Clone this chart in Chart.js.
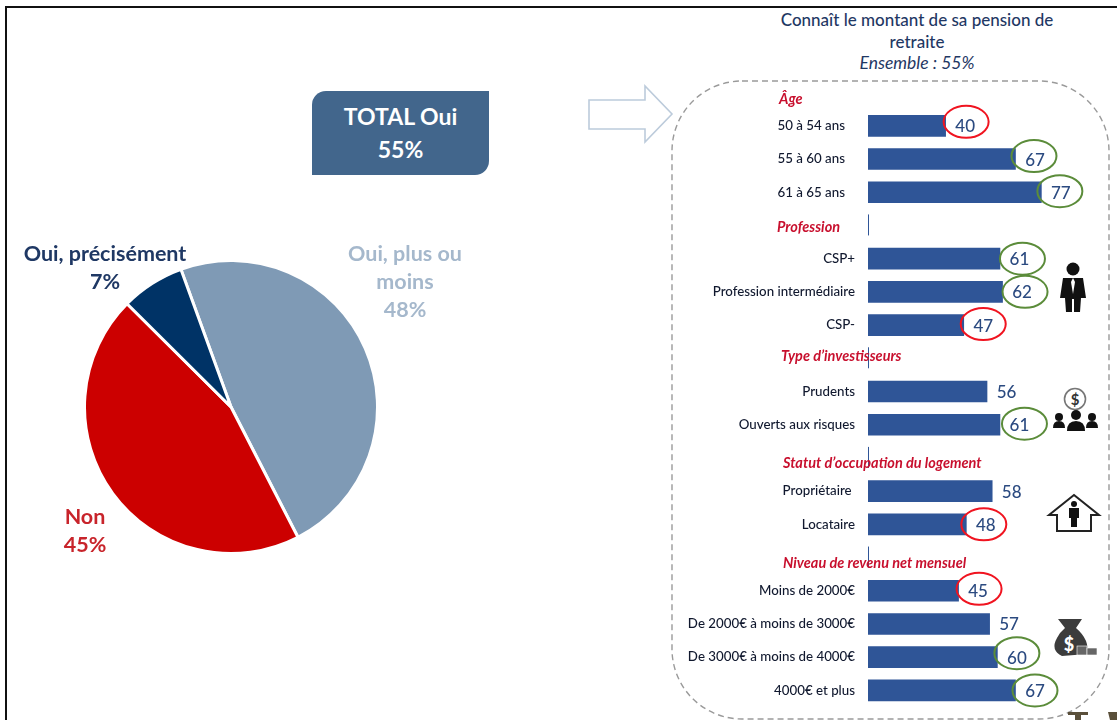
<!DOCTYPE html>
<html lang="fr">
<head>
<meta charset="utf-8">
<title>Pension de retraite</title>
<script src="https://cdn.jsdelivr.net/npm/chart.js@4"></script>
<style>
    html, body { margin: 0; padding: 0; background: #fff; }
    body { position: relative; width: 1117px; height: 720px; overflow: hidden; font-family: Lato, sans-serif; filter: blur(0.35px); }
    canvas, svg, .txt { position: absolute; }
    svg { left: 0; top: 0; }
    .txt { text-align: center; transform: translateX(-50%); white-space: nowrap; }
    #frameTop { position: absolute; left: 5px; top: 6px; width: 1112px; height: 2px; background: #111; }
    #frameLeft { position: absolute; left: 5px; top: 6px; width: 2px; height: 714px; background: #111; }
    #total {
        position: absolute; left: 312px; top: 91px; width: 177px; height: 84px;
        background: #42668c; color: #fff; font-weight: 700; font-size: 23px; line-height: 33px;
        text-align: center; border-radius: 14px 0 14px 0; padding-top: 9px; box-sizing: border-box;
    }
    #title { left: 917px; top: 9px; color: #1f3864; font-size: 17px; line-height: 21.5px; font-weight: 500; }
    #title i { font-weight: 400; font-size: 17.5px; }
    .pieLabel { font-weight: 700; font-size: 21.5px; line-height: 28px; }
</style>
</head>
<body>
<div id="frameTop"></div>
<div id="frameLeft"></div>
<div id="total">TOTAL Oui<br>55%</div>
<div id="title" class="txt">Connaît le montant de sa pension de<br>retraite<br><i>Ensemble : 55%</i></div>

<svg width="1117" height="720">
    <polygon points="589,100 645,100 645,86 672,114 645,142 645,129 589,129" fill="#fff" stroke="#bccbdb" stroke-width="1.6"/>
    <rect x="672" y="81" width="437" height="638" rx="70" ry="70" fill="none" stroke="#9a9a9a" stroke-width="1.4" stroke-dasharray="6 4"/>
    <!-- person -->
    <g fill="#111">
        <circle cx="1073" cy="269" r="6.5"/>
        <path d="M1063,278 L1083,278 L1086,298 L1081,298 L1080,312 L1074,312 L1074,299 L1072,299 L1072,312 L1066,312 L1065,298 L1060,298 Z"/>
    </g>
    <path d="M1073,278 L1071,282 L1073,294 L1075,282 Z" fill="#fff"/>
    <!-- dollar and people -->
    <circle cx="1075" cy="399" r="10.5" fill="#fff" stroke="#777" stroke-width="1.6"/>
    <text x="1075" y="404.5" font-family="Lato" font-weight="700" font-size="15" text-anchor="middle" fill="#333">$</text>
    <g fill="#111">
        <circle cx="1059" cy="417" r="4"/><path d="M1053,428 Q1053,421 1059,421 Q1065,421 1065,428 Z"/>
        <circle cx="1076" cy="415" r="5"/><path d="M1067,431 Q1067,421 1076,421 Q1085,421 1085,431 Z"/>
        <circle cx="1092" cy="417" r="4"/><path d="M1086,428 Q1086,421 1092,421 Q1098,421 1098,428 Z"/>
    </g>
    <!-- house -->
    <path d="M1049,515 L1074,495 L1099,515 L1091,515 L1091,531 L1057,531 L1057,515 Z" fill="#fff" stroke="#222" stroke-width="2"/>
    <g fill="#111">
        <circle cx="1074" cy="504" r="3"/>
        <path d="M1069,508 L1079,508 L1079,518 L1077,518 L1077,527 L1071,527 L1071,518 L1069,518 Z"/>
    </g>
    <!-- money bag -->
    <path d="M1058,619 L1082,619 L1076,628 Q1090,640 1087,654 L1062,656 Q1050,650 1057,638 Q1060,632 1065,628 Z" fill="#3c3c3c"/>
    <text x="1069" y="651" font-family="Lato" font-weight="900" font-size="18" text-anchor="middle" fill="#fff">$</text>
    <g fill="#666" stroke="#fff" stroke-width="0.6">
        <rect x="1077" y="646" width="10" height="9"/>
        <rect x="1087" y="648" width="10" height="7"/>
    </g>
    <!-- bottom fragments -->
    <path d="M1068,712 L1088,712 L1088,715 L1081,715 L1081,720 L1075,720 L1075,715 L1068,715 Z" fill="#5a4f3a"/>
    <path d="M1108,712 L1117,712 L1117,720 L1110,720 Z" fill="#5a4f3a"/>
</svg>

<canvas id="pieChart" width="296" height="296" style="left:83px;top:259px"></canvas>
<canvas id="barChart" width="457" height="650" style="left:660px;top:70px"></canvas>

<script>
const pieLabels = ["Oui, plus ou moins", "Non", "Oui, précisément"];
const pieValues = [48, 45, 7];
const pieColors = ["#7f9ab5", "#cc0000", "#003366"];

const barLabels = [
    "Âge", "50 à 54 ans", "55 à 60 ans", "61 à 65 ans",
    "Profession", "CSP+", "Profession intermédiaire", "CSP-",
    "Type d’investisseurs", "Prudents", "Ouverts aux risques",
    "Statut d’occupation du logement", "Propriétaire", "Locataire",
    "Niveau de revenu net mensuel", "Moins de 2000€", "De 2000€ à moins de 3000€", "De 3000€ à moins de 4000€", "4000€ et plus",
];
const barValues = [null, 40, 67, 77, null, 61, 62, 47, null, 56, 61, null, 58, 48, null, 45, 57, 60, 67];
// r = low (red oval), g = high (green oval), "" = no oval
const barMarks = ["", "r", "g", "g", "", "g", "g", "r", "", "", "g", "", "", "r", "", "r", "", "g", "g"];
</script>
<script>
const barColor = "#2f5597";
const valueColor = "#2b4a80";
const headColor = "#c8102e";

// per row tweaks to sit the ovals and labels like the original slide
const ovalShift = {1: [1, -4], 2: [-1, -3], 3: [-1, -1], 5: [3, 0], 6: [3, 0], 7: [0, -1], 10: [5, -1], 13: [-2, 0], 15: [1, -2], 17: [0, -4], 18: [0, 0]};
const labelPad = {1: 3, 2: 3, 3: 3, 12: 1};
const headLeft = {0: 779, 4: 777, 8: 781, 11: 783, 14: 783};
const headShift = {0: 7, 4: 2, 8: -2, 11: 5, 14: 6};

const pieChart = () => {
    const ctx = document.getElementById("pieChart");
    new Chart(ctx, {
        type: "pie",
        data: {
            labels: pieLabels,
            datasets: [{
                data: pieValues,
                backgroundColor: pieColors,
                borderColor: "#fff",
                borderWidth: 3,
            }],
        },
        options: {
            responsive: false,
            animation: false,
            rotation: -20,
            plugins: { legend: { display: false }, tooltip: { enabled: false } },
        },
    });
};

const rowMarks = {
    id: "rowMarks",
    afterDatasetsDraw(chart) {
        const c = chart.ctx;
        const xs = chart.scales.x;
        const ys = chart.scales.y;
        c.save();
        barValues.forEach((v, i) => {
            const y = ys.getPixelForValue(i);
            if (v === null) {
                // thin axis piece on the heading rows, the first one has none
                if (i > 0) {
                    c.strokeStyle = barColor;
                    c.lineWidth = 1;
                    c.beginPath();
                    c.moveTo(xs.left + 0.5, y - 11);
                    c.lineTo(xs.left + 0.5, y + 10);
                    c.stroke();
                }
                c.fillStyle = headColor;
                c.font = "italic 700 14.5px Lato";
                c.textAlign = "left";
                c.textBaseline = "middle";
                c.fillText(barLabels[i], headLeft[i] - 660, y + headShift[i]);
                return;
            }
            const x = xs.getPixelForValue(v) + 19.5;
            c.fillStyle = valueColor;
            c.font = "500 17px Lato";
            c.textAlign = "center";
            c.textBaseline = "middle";
            c.fillText(String(v), x, y + 1);
            if (barMarks[i]) {
                const s = ovalShift[i] || [0, 0];
                c.strokeStyle = barMarks[i] === "r" ? "#f01420" : "#5b8c3a";
                c.lineWidth = 2;
                c.beginPath();
                c.ellipse(x + s[0], y + s[1], 22.5, 16, 0, 0, Math.PI * 2);
                c.stroke();
            }
        });
        c.restore();
    },
};

const barChart = () => {
    const ctx = document.getElementById("barChart");
    new Chart(ctx, {
        type: "bar",
        data: {
            labels: barLabels,
            datasets: [{
                data: barValues,
                backgroundColor: barColor,
                barThickness: 21,
            }],
        },
        options: {
            indexAxis: "y",
            responsive: false,
            animation: false,
            layout: { padding: { top: 6, right: 42, bottom: 13, left: 0 } },
            scales: {
                x: { display: false, min: 10, max: 90 },
                y: {
                    afterFit(scale) {
                        scale.width = 208;
                        // plot area must stay exactly on the row grid
                        scale.paddingTop = 0;
                        scale.paddingBottom = 0;
                    },
                    grid: { display: false, drawTicks: false },
                    border: { display: false },
                    ticks: {
                        autoSkip: false,
                        padding: 13,
                        color: "#10182e",
                        font: { family: "Lato", size: 13.3, weight: "500" },
                        callback(value, i) {
                            if (barValues[i] === null) return "";
                            return barLabels[i] + "\u00a0".repeat(labelPad[i] || 0);
                        },
                    },
                },
            },
            plugins: { legend: { display: false }, tooltip: { enabled: false } },
        },
        plugins: [rowMarks],
    });
};

// pie captions, placed by hand next to their slice
const pieCaption = (lines, x, top, color) => {
    const d = document.createElement("div");
    d.className = "txt pieLabel";
    d.style.left = x + "px";
    d.style.top = top + "px";
    d.style.color = color;
    d.innerHTML = lines.join("<br>");
    document.body.appendChild(d);
};

pieChart();
barChart();
pieCaption(["Oui, plus ou", "moins", pieValues[0] + "%"], 405, 239, "#a5b8cc");
pieCaption(["Non", pieValues[1] + "%"], 85, 502, "#c8242b");
pieCaption([pieLabels[2], pieValues[2] + "%"], 105, 239, "#1f3864");
</script>
</body>
</html>
